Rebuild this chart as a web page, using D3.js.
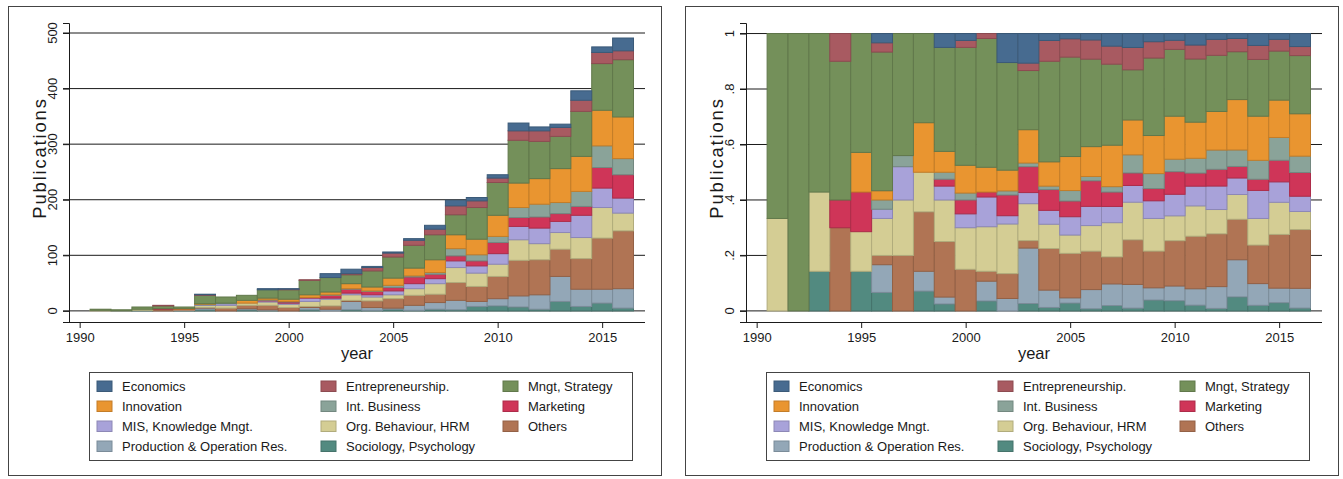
<!DOCTYPE html>
<html>
<head>
<meta charset="utf-8">
<script src="https://cdn.jsdelivr.net/npm/d3@7"></script>
<style>
  body { margin: 0; background: #fff; }
  svg { display: block; font-family: "Liberation Sans", Arial, sans-serif; }
</style>
</head>
<body>
<svg id="chart" width="1343" height="479"></svg>
<script>
// publication years, one bar each
const years = d3.range(1991, 2017);

// counts per field, 1991..2016
const economics      = [0,0,0,0,0,1,0,0,2,1,0,7,8,2,2,3,7,10,6,6,14,7,6,17,10,23];
const entrepreneur   = [0,0,0,1,0,1,0,0,0,1,1,0,2,6,7,9,10,16,12,8,17,19,16,20,20,16];
const mngtStrategy   = [2,2,4,5,3,15,11,9,15,17,26,26,16,29,38,41,45,36,57,59,77,67,58,81,84,103];
const innovation     = [0,0,0,0,1,1,0,5,3,4,5,5,9,7,13,14,23,25,28,38,44,46,61,63,64,75];
const intBusiness    = [0,0,0,0,0,1,1,0,1,1,0,1,1,1,4,2,3,13,11,11,18,23,20,27,39,29];
const marketing      = [0,0,0,1,1,0,0,0,1,2,1,5,7,6,6,12,8,9,9,20,16,20,14,16,37,42];
const misKnowledge   = [0,0,0,0,0,1,3,0,2,2,6,2,3,4,7,9,9,12,13,19,24,28,20,40,35,27];
const orgBehaviour   = [1,0,2,0,1,4,5,4,6,6,9,12,10,7,7,12,19,27,24,22,37,29,30,38,55,32];
const others         = [0,0,0,3,0,1,5,6,8,6,2,6,2,12,17,18,15,32,27,40,64,63,49,55,92,104];
const production     = [0,0,0,0,0,3,0,2,1,0,4,3,15,5,2,9,12,17,9,13,20,26,45,31,25,35];
const sociology      = [0,0,1,0,1,2,0,2,1,0,2,0,2,1,3,1,3,2,8,9,7,3,17,8,14,5];

// legend order (stack order is the reverse)
const series = [
  { key: 'econ',  label: 'Economics',                   color: '#476b90', values: economics },
  { key: 'entre', label: 'Entrepreneurship.',           color: '#a85a61', values: entrepreneur },
  { key: 'mngt',  label: 'Mngt, Strategy',              color: '#74905a', values: mngtStrategy },
  { key: 'innov', label: 'Innovation',                  color: '#e99530', values: innovation },
  { key: 'intb',  label: 'Int. Business',               color: '#8aa399', values: intBusiness },
  { key: 'mkt',   label: 'Marketing',                   color: '#cf3558', values: marketing },
  { key: 'mis',   label: 'MIS, Knowledge Mngt.',        color: '#a8a2d9', values: misKnowledge },
  { key: 'org',   label: 'Org. Behaviour, HRM',         color: '#d4cd94', values: orgBehaviour },
  { key: 'oth',   label: 'Others',                      color: '#b07454', values: others },
  { key: 'prod',  label: 'Production & Operation Res.', color: '#93a7b7', values: production },
  { key: 'soc',   label: 'Sociology, Psychology',       color: '#528a80', values: sociology }
];

const countTicks = [0, 100, 200, 300, 400, 500];
const shareTicks = [0, 0.2, 0.4, 0.6, 0.8, 1];
const yearTicks = [1990, 1995, 2000, 2005, 2010, 2015];

// table for d3.stack
const table = years.map((y, i) => {
  const row = { year: y };
  series.forEach(s => { row[s.key] = s.values[i]; });
  return row;
});
const stackKeys = series.map(s => s.key).reverse();
const colorOf = d3.scaleOrdinal(series.map(s => s.key), series.map(s => s.color));

const svg = d3.select('#chart');
const ink = '#1a1a1a';

function drawPanel(offsetX, opts) {
  const g = svg.append('g').attr('transform', `translate(${offsetX},0)`);

  // outer frame
  g.append('rect')
    .attr('x', 8.5).attr('y', 6.5)
    .attr('width', 653).attr('height', 469)
    .attr('fill', 'none').attr('stroke', '#444').attr('stroke-width', 1);

  const x = d3.scaleLinear().domain([1989.49, 2017.05]).range([69, 645]);
  const y = d3.scaleLinear().domain(opts.yDomain).range([322, 23]);

  // grid lines (behind bars)
  g.append('g').selectAll('line')
    .data(opts.ticks)
    .join('line')
    .attr('x1', 63).attr('x2', 645)
    .attr('y1', d => y(d)).attr('y2', d => y(d))
    .attr('stroke', ink).attr('stroke-width', 1);

  // bars
  const stacked = d3.stack().keys(stackKeys).offset(opts.offset)(table);
  g.append('g').selectAll('g')
    .data(stacked)
    .join('g')
    .attr('fill', d => colorOf(d.key))
    .attr('stroke', d => d3.color(colorOf(d.key)).darker(0.5))
    .selectAll('rect')
    .data(d => d.filter(p => p[1] - p[0] > 0))
    .join('rect')
    .attr('x', d => x(d.data.year - 0.5))
    .attr('width', d => x(d.data.year + 0.5) - x(d.data.year - 0.5))
    .attr('y', d => y(d[1]))
    .attr('height', d => y(d[0]) - y(d[1]))
    .attr('stroke-width', 1);

  // y axis
  const yAxis = g.append('g')
    .attr('transform', 'translate(69,0)')
    .call(d3.axisLeft(y).tickValues(opts.ticks).tickSize(6).tickFormat(''));
  yAxis.select('.domain').attr('stroke', ink);
  yAxis.selectAll('line').attr('stroke', ink);
  g.append('g').selectAll('text')
    .data(opts.ticks)
    .join('text')
    .attr('transform', d => `translate(57,${y(d)}) rotate(-90)`)
    .attr('text-anchor', 'middle')
    .attr('font-size', 13)
    .attr('fill', ink)
    .text(opts.tickFormat);

  // x axis
  const xAxis = g.append('g')
    .attr('transform', 'translate(0,322)')
    .call(d3.axisBottom(x).tickValues(yearTicks).tickSize(6).tickPadding(5).tickFormat(d3.format('d')));
  xAxis.select('.domain').attr('stroke', ink).attr('d', 'M69,0.5H645');
  xAxis.selectAll('line').attr('stroke', ink);
  xAxis.selectAll('text')
    .attr('font-size', 13)
    .attr('font-family', '"Liberation Sans", Arial, sans-serif')
    .attr('fill', ink);

  // axis titles
  g.append('text')
    .attr('transform', 'translate(46,158) rotate(-90)')
    .attr('text-anchor', 'middle')
    .attr('font-size', 18.5)
    .attr('letter-spacing', 1.8)
    .attr('fill', ink)
    .text('Publications');
  g.append('text')
    .attr('x', 357).attr('y', 358.5)
    .attr('text-anchor', 'middle')
    .attr('font-size', 16.5)
    .attr('fill', ink)
    .text('year');

  // legend
  const lg = g.append('g');
  lg.append('rect')
    .attr('x', 89.5).attr('y', 372.5)
    .attr('width', 543).attr('height', 88)
    .attr('fill', 'none').attr('stroke', '#444');
  const colSwatch = [97, 321, 503];
  const colText = [122, 346, 528];
  const items = lg.selectAll('g.item')
    .data(series)
    .join('g')
    .attr('class', 'item')
    .attr('transform', (d, i) => `translate(0,${381 + Math.floor(i / 3) * 20})`);
  items.append('rect')
    .attr('x', (d, i) => colSwatch[i % 3])
    .attr('width', 15).attr('height', 10.5)
    .attr('fill', d => d.color)
    .attr('stroke', d => d3.color(d.color).darker(0.5));
  items.append('text')
    .attr('x', (d, i) => colText[i % 3])
    .attr('y', 10)
    .attr('font-size', 13)
    .attr('fill', ink)
    .text(d => d.label);
}

drawPanel(0, {
  yDomain: [-20, 518],
  ticks: countTicks,
  tickFormat: d3.format('d'),
  offset: d3.stackOffsetNone
});

drawPanel(677, {
  yDomain: [-0.04, 1.038],
  ticks: shareTicks,
  tickFormat: d => d === 0 ? '0' : d === 1 ? '1' : d3.format('.1f')(d).replace(/^0/, ''),
  offset: d3.stackOffsetExpand
});
</script>
</body>
</html>
